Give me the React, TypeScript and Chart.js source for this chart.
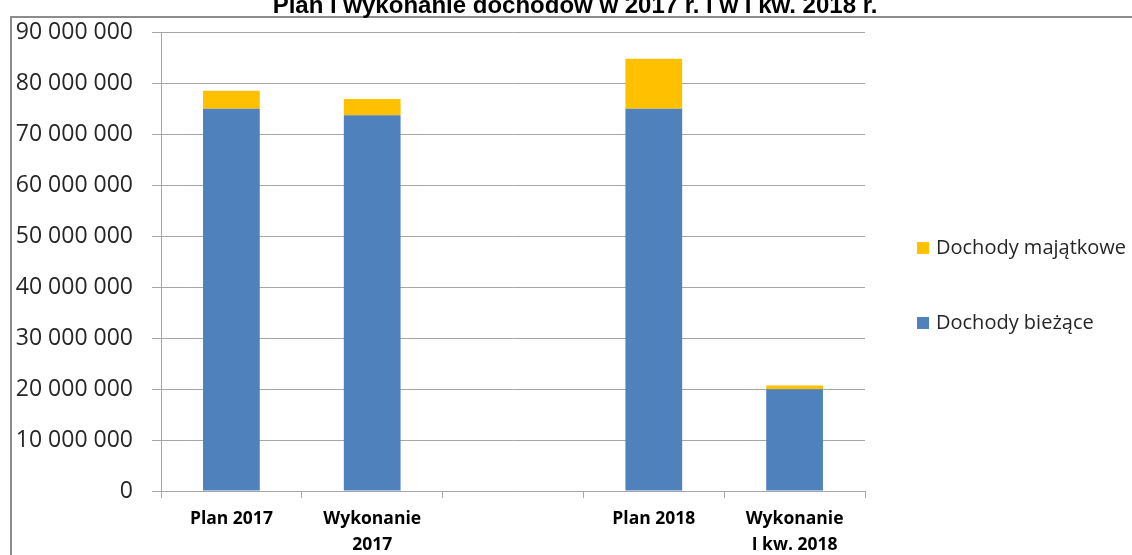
import React, { useEffect, useRef } from "react";
import { Chart, registerables } from "chart.js";

Chart.register(...registerables);

const TITLE = "Plan i wykonanie dochodów w 2017 r. i w I kw. 2018 r.";
const categories: string[][] = [
  ["Plan 2017"],
  ["Wykonanie", "2017"],
  [""],
  ["Plan 2018"],
  ["Wykonanie", "I kw. 2018"],
];
const seriesNames = ["Dochody bieżące", "Dochody majątkowe"];
const dochodyBiezace = [75100000, 73800000, null, 75100000, 20000000];
const dochodyMajatkowe = [3500000, 3200000, null, 9800000, 700000];
const yTicks = [0, 10000000, 20000000, 30000000, 40000000, 50000000, 60000000, 70000000, 80000000, 90000000];

const BLUE = "#4F81BD";
const YELLOW = "#FFC000";
const GRID = "#A6A6A6";

const fmt = (v: number) => String(v).replace(/\B(?=(\d{3})+(?!\d))/g, " ");

export default function App() {
  const ref = useRef<HTMLCanvasElement | null>(null);

  useEffect(() => {
    if (!ref.current) return;
    const framePlugin = {
      id: "frameTitle",
      beforeDraw(chart: any) {
        const ctx = chart.ctx;
        ctx.save();
        ctx.fillStyle = "#fff";
        ctx.fillRect(0, 0, chart.width, chart.height);
        ctx.strokeStyle = "#8C8C8C";
        ctx.lineWidth = 2;
        ctx.beginPath();
        ctx.moveTo(11, chart.height + 5);
        ctx.lineTo(11, 17);
        ctx.lineTo(chart.width + 5, 17);
        ctx.stroke();
        ctx.fillStyle = "#000";
        ctx.font = "bold 24px 'Liberation Sans', Arial, sans-serif";
        ctx.textAlign = "center";
        ctx.textBaseline = "alphabetic";
        ctx.fillText(TITLE, 575, 13);
        ctx.restore();
      },
      afterDraw(chart: any) {
        const ctx = chart.ctx;
        ctx.save();
        const items = [
          { ds: chart.data.datasets[1], y: 248 },
          { ds: chart.data.datasets[0], y: 323 },
        ];
        ctx.font = "20px 'Open Sans', sans-serif";
        ctx.textBaseline = "middle";
        ctx.textAlign = "left";
        for (const it of items) {
          ctx.fillStyle = it.ds.backgroundColor;
          ctx.fillRect(917, it.y - 6, 12, 12);
          ctx.fillStyle = "#262626";
          ctx.fillText(it.ds.label, 936, it.y);
        }
        ctx.restore();
      },
    };

    const chart = new Chart(ref.current, {
      type: "bar",
      data: {
        labels: categories,
        datasets: [
          {
            label: seriesNames[0],
            data: dochodyBiezace,
            backgroundColor: BLUE,
            borderWidth: 0,
            categoryPercentage: 1,
            barPercentage: 0.403,
          },
          {
            label: seriesNames[1],
            data: dochodyMajatkowe,
            backgroundColor: YELLOW,
            borderWidth: 0,
            categoryPercentage: 1,
            barPercentage: 0.403,
          },
        ] as any,
      },
      plugins: [framePlugin],
      options: {
        responsive: false,
        animation: false,
        layout: { padding: { top: 31, right: 267, left: 0, bottom: 0 } },
        plugins: {
          legend: { display: false },
          title: { display: false },
          tooltip: { enabled: false },
        },
        scales: {
          x: {
            stacked: true,
            offset: true,
            afterFit: (s: any) => {
              s.height = 64;
            },
            grid: {
              offset: true,
              drawOnChartArea: false,
              drawTicks: true,
              tickLength: 7,
              color: GRID,
              lineWidth: 1,
            },
            border: { color: GRID, width: 1 },
            ticks: {
              color: "#000",
              padding: 8,
              maxRotation: 0,
              autoSkip: false,
              font: { family: "'Open Sans', sans-serif", size: 17.5, weight: "bold", lineHeight: 1.5 },
            },
          },
          y: {
            stacked: true,
            min: 0,
            max: 90000000,
            afterFit: (s: any) => {
              s.width = 161;
            },
            afterBuildTicks: (s: any) => {
              s.ticks = yTicks.map((v) => ({ value: v }));
            },
            grid: {
              color: GRID,
              lineWidth: 1,
              drawTicks: true,
              tickLength: 9,
            },
            border: { color: GRID, width: 1 },
            ticks: {
              color: "#262626",
              padding: 19,
              font: { family: "'Open Sans', sans-serif", size: 23 },
              callback: (v: any) => fmt(Number(v)),
            },
          },
        },
      } as any,
    });
    return () => chart.destroy();
  }, []);

  return (
    <div style={{ position: "absolute", left: 0, top: 0, width: 1132, height: 555, background: "#fff" }}>
      <canvas ref={ref} width={1132} height={555} style={{ display: "block" }} />
    </div>
  );
}
